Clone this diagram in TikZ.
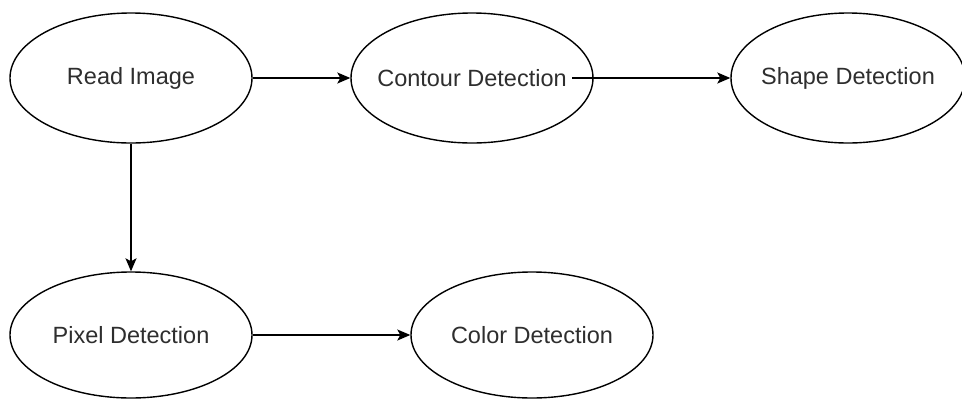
\documentclass[tikz,border=0pt]{standalone}
\usepackage{fontspec}
\setmainfont{Liberation Sans}
\usetikzlibrary{shapes.geometric,arrows.meta}
\begin{document}
\begin{tikzpicture}[x=1pt,y=-1pt,
  stage/.style={ellipse,draw=black,line width=1.4pt,fill=white,
    minimum width=242pt,minimum height=130pt,inner xsep=-30pt,inner ysep=0pt,
    text=black!82,font=\fontsize{23.5}{27}\selectfont},
  flow/.style={draw=black,line width=1.4pt,-{Stealth[length=13pt,width=11pt,inset=3pt]}}]
\useasboundingbox (0,0) rectangle (962,400);
\node[stage] (read)    at (131,78)  {Read Image};
\node[stage] (contour) at (472,78)  {Contour Detection};
\node[stage,minimum width=234pt] (shape) at (848,78) {Shape Detection};
\node[stage,minimum height=126pt] (pixel) at (131,335) {Pixel Detection};
\node[stage,minimum height=126pt] (color) at (532,335) {Color Detection};
% the contour edge leaves from the end of its label
\coordinate (contourout) at (572,78);
\draw[flow] (read) -- (contour);
\draw[flow] (contourout) -- (shape);
\draw[flow] (read) -- (pixel);
\draw[flow] (pixel) -- (color);
\end{tikzpicture}
\end{document}
